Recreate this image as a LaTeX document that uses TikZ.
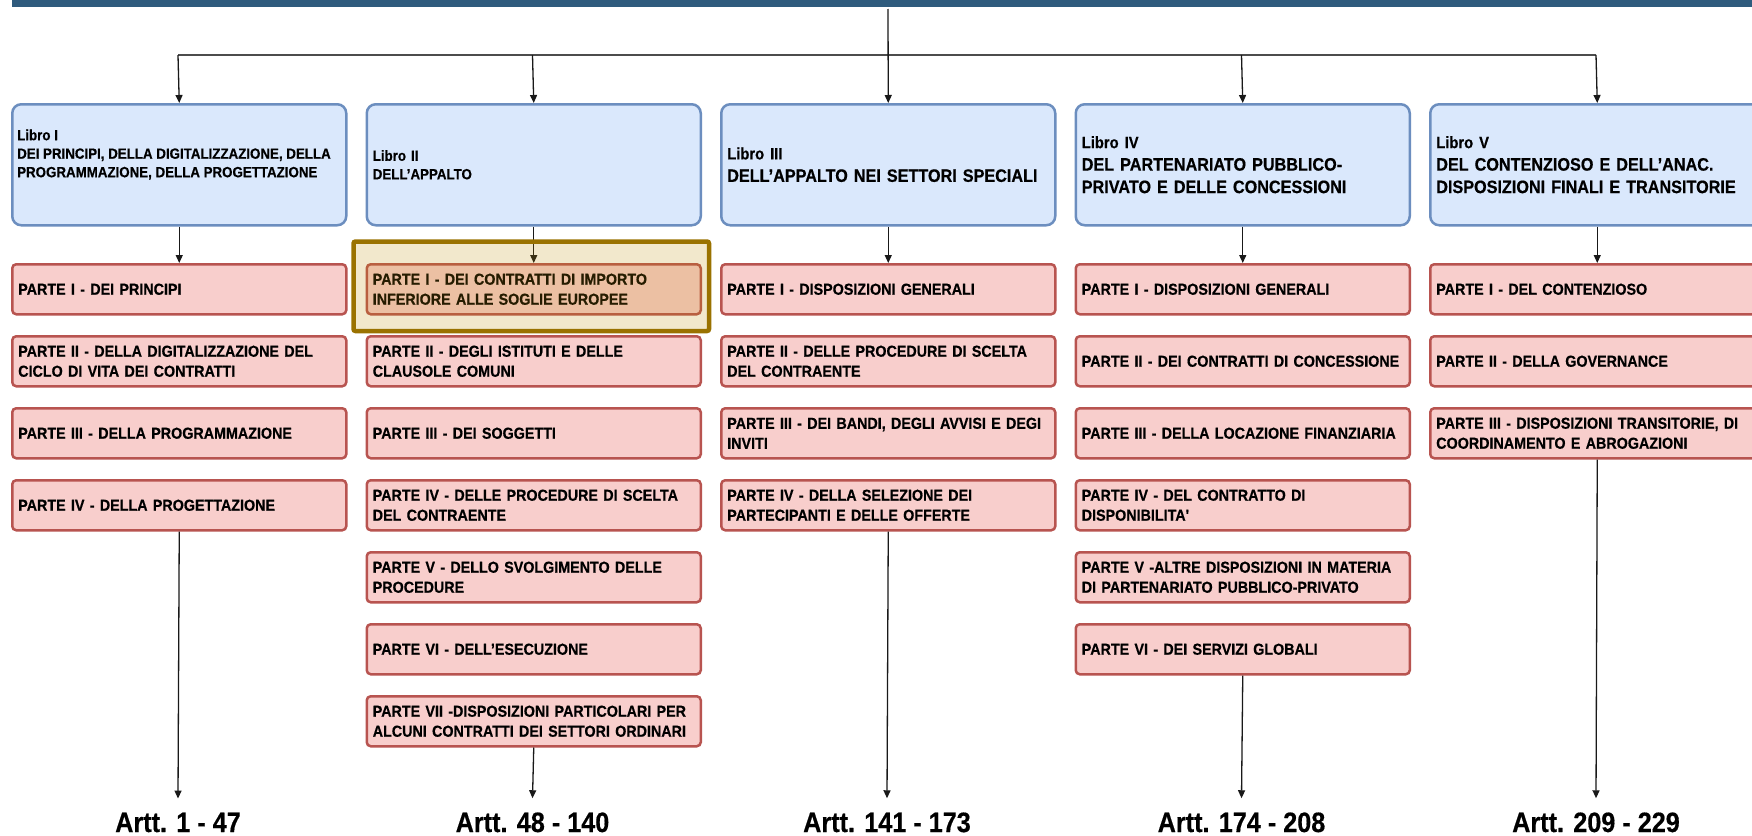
\documentclass[tikz,border=0pt]{standalone}
\usepackage{fontspec}
\newfontfamily\cf{Liberation Sans Bold}[FakeStretch=0.9,FakeBold=0.5]
\usetikzlibrary{arrows.meta}
\definecolor{barC}{HTML}{2F5B7D}
\definecolor{libroF}{HTML}{DAE8FC}
\definecolor{libroB}{HTML}{6C8EBF}
\definecolor{parteF}{HTML}{F8CECC}
\definecolor{parteB}{HTML}{B85450}
\definecolor{goldB}{HTML}{9A7200}
\definecolor{goldF}{HTML}{BE8C00}
\begin{document}
\begin{tikzpicture}[x=1pt,y={(0pt,-1pt)},
  libro/.style={draw=libroB, fill=libroF, line width=2.5pt, rounded corners=9pt,
    minimum width=334pt, minimum height=121pt, anchor=north west,
    inner xsep=6pt, inner ysep=0pt, text width=322pt, align=left},
  lsmall/.style={font=\cf\fontsize{14.8}{18.5}\selectfont},
  lbig/.style={font=\cf\fontsize{18}{22.5}\selectfont},
  ltxt/.style={anchor=west, align=left, inner sep=0pt},
  parte/.style={draw=parteB, fill=parteF, line width=2.5pt, rounded corners=4pt,
    minimum width=334pt, minimum height=50pt, anchor=north west,
    inner xsep=6pt, inner ysep=0pt, text width=322pt, align=left,
    font=\cf\fontsize{15.9}{20}\selectfont},
  artt/.style={font=\cf\fontsize{28}{30}\selectfont, anchor=base,
    inner xsep=0pt, inner ysep=14pt},
  hl/.style={draw=goldB, fill=goldF, fill opacity=0.2, draw opacity=1,
    line width=4.5pt, rounded corners=2pt, anchor=north west,
    minimum width=355.5pt, minimum height=89.5pt, inner sep=0pt},
  arr/.style={-{Triangle[length=8pt,width=7pt]}, line width=1.3pt, draw=black!90},
  conn/.style={line width=1.6pt, draw=black!70},
]
\useasboundingbox (0,0) rectangle (1752,835);
\clip (0,0) rectangle (1752,835);
\fill[white] (0,0) rectangle (1752,835);
% top bar
\node[fill=barC, draw=none, anchor=north west, minimum width=1745pt, minimum height=7pt, inner sep=0pt] (bar) at (12,0) {};

% Libri
\node[libro] (L1) at (11,103) {};
\node[ltxt, lsmall] (L1t) at (17,154.5) {Libro I\\DEI PRINCIPI, DELLA DIGITALIZZAZIONE, DELLA\\PROGRAMMAZIONE, DELLA PROGETTAZIONE};
\node[libro, lsmall] (L2) at (365.5,103) {Libro II\\DELL’APPALTO};
\node[libro, lbig] (L3) at (720,103) {{\fontsize{16.4}{22.5}\selectfont Libro III}\\DELL’APPALTO NEI SETTORI SPECIALI};
\node[libro, lbig] (L4) at (1074.5,103) {{\fontsize{16.4}{22.5}\selectfont Libro IV}\\DEL PARTENARIATO PUBBLICO-\\PRIVATO E DELLE CONCESSIONI};
\node[libro, lbig] (L5) at (1429,103) {{\fontsize{16.4}{22.5}\selectfont Libro V}\\DEL CONTENZIOSO E DELL’ANAC.\\DISPOSIZIONI FINALI E TRANSITORIE};

% Column 1
\node[parte] (P11) at (11,263) {PARTE I - DEI PRINCIPI};
\node[parte] (P12) at (11,335) {PARTE II - DELLA DIGITALIZZAZIONE DEL\\CICLO DI VITA DEI CONTRATTI};
\node[parte] (P13) at (11,407) {PARTE III - DELLA PROGRAMMAZIONE};
\node[parte] (P14) at (11,479) {PARTE IV - DELLA PROGETTAZIONE};

% Column 2
\node[parte] (P21) at (365.5,263) {PARTE I - DEI CONTRATTI DI IMPORTO\\INFERIORE ALLE SOGLIE EUROPEE};
\node[parte] (P22) at (365.5,335) {PARTE II - DEGLI ISTITUTI E DELLE\\CLAUSOLE COMUNI};
\node[parte] (P23) at (365.5,407) {PARTE III - DEI SOGGETTI};
\node[parte] (P24) at (365.5,479) {PARTE IV - DELLE PROCEDURE DI SCELTA\\DEL CONTRAENTE};
\node[parte] (P25) at (365.5,551) {PARTE V - DELLO SVOLGIMENTO DELLE\\PROCEDURE};
\node[parte] (P26) at (365.5,623) {PARTE VI - DELL’ESECUZIONE};
\node[parte] (P27) at (365.5,695) {PARTE VII -DISPOSIZIONI PARTICOLARI PER\\ALCUNI CONTRATTI DEI SETTORI ORDINARI};

% Column 3
\node[parte] (P31) at (720,263) {PARTE I - DISPOSIZIONI GENERALI};
\node[parte] (P32) at (720,335) {PARTE II - DELLE PROCEDURE DI SCELTA\\DEL CONTRAENTE};
\node[parte] (P33) at (720,407) {PARTE III - DEI BANDI, DEGLI AVVISI E DEGI\\INVITI};
\node[parte] (P34) at (720,479) {PARTE IV - DELLA SELEZIONE DEI\\PARTECIPANTI E DELLE OFFERTE};

% Column 4
\node[parte] (P41) at (1074.5,263) {PARTE I - DISPOSIZIONI GENERALI};
\node[parte] (P42) at (1074.5,335) {PARTE II - DEI CONTRATTI DI CONCESSIONE};
\node[parte] (P43) at (1074.5,407) {PARTE III - DELLA LOCAZIONE FINANZIARIA};
\node[parte] (P44) at (1074.5,479) {PARTE IV - DEL CONTRATTO DI\\DISPONIBILITA\textquotesingle};
\node[parte] (P45) at (1074.5,551) {PARTE V -ALTRE DISPOSIZIONI IN MATERIA\\DI PARTENARIATO PUBBLICO-PRIVATO};
\node[parte] (P46) at (1074.5,623) {PARTE VI - DEI SERVIZI GLOBALI};

% Column 5
\node[parte] (P51) at (1429,263) {PARTE I - DEL CONTENZIOSO};
\node[parte] (P52) at (1429,335) {PARTE II - DELLA GOVERNANCE};
\node[parte] (P53) at (1429,407) {PARTE III - DISPOSIZIONI TRANSITORIE, DI\\COORDINAMENTO E ABROGAZIONI};

% Artt labels
\node[artt] (A1) at (178,832) {Artt. 1 - 47};
\node[artt] (A2) at (532.5,832) {Artt. 48 - 140};
\node[artt] (A3) at (887,832) {Artt. 141 - 173};
\node[artt] (A4) at (1241.5,832) {Artt. 174 - 208};
\node[artt] (A5) at (1596,832) {Artt. 209 - 229};

% tree connectors
\coordinate (top) at (888,9);
\coordinate (h1) at (178,55);
\coordinate (h2) at (532.5,55);
\coordinate (h4) at (1241.5,55);
\coordinate (h5) at (1596,55);
\draw[conn] (h1) -- (h5);
\draw[arr] (h1) -- (L1.north);
\draw[arr] (h2) -- (L2.north);
\draw[arr] (top) -- (L3.north);
\draw[arr] (h4) -- (L4.north);
\draw[arr] (h5) -- (L5.north);

\draw[arr] (L1.south) -- (P11.north);
\draw[arr] (L2.south) -- (P21.north);
\draw[arr] (L3.south) -- (P31.north);
\draw[arr] (L4.south) -- (P41.north);
\draw[arr] (L5.south) -- (P51.north);

\draw[arr] (P14.south) -- (A1.north);
\draw[arr] (P27.south) -- (A2.north);
\draw[arr] (P34.south) -- (A3.north);
\draw[arr] (P46.south) -- (A4.north);
\draw[arr] (P53.south) -- (A5.north);

% highlight
\node[hl] (HL) at (351.25,239.25) {};
\end{tikzpicture}
\end{document}
